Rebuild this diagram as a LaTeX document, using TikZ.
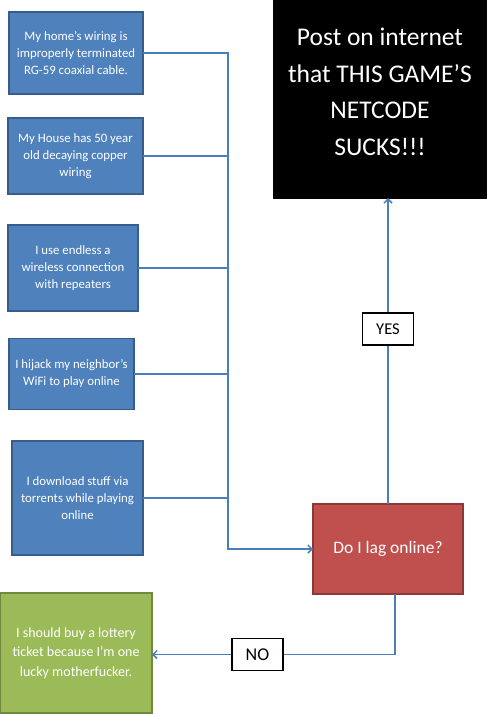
\documentclass[tikz,border=0pt]{standalone}
\usepackage{fontspec}
\setmainfont{Carlito}
\usetikzlibrary{arrows.meta}
\definecolor{cause}{HTML}{4F81BD}
\definecolor{causeline}{HTML}{385D8A}
\definecolor{ask}{HTML}{C0504D}
\definecolor{askline}{HTML}{8C3836}
\definecolor{luck}{HTML}{9BBB59}
\definecolor{luckline}{HTML}{71893F}
\definecolor{wire}{HTML}{4A7EBB}

\begin{document}
\begin{tikzpicture}[x=1pt, y=-1pt,
      box/.style={draw, line width=1.6pt, align=center, text=white, inner sep=0pt, outer sep=0pt},
      why/.style={box, draw=causeline, fill=cause, font=\fontsize{12.8}{17}\selectfont},
      answer/.style={draw, line width=1.2pt, fill=white, inner sep=0pt, minimum width=51pt, minimum height=32pt, font=\fontsize{16.5}{16.5}\selectfont},
      link/.style={wire, line width=1.5pt},
      arr/.style={link, -{Straight Barb[length=4pt,width=8pt]}}]
    \useasboundingbox (0,0) rectangle (487,714);
    \node[why, minimum width=134pt, minimum height=82pt] (coax) at (76,53) {My home’s wiring is\\improperly terminated\\RG-59 coaxial cable.};
    \node[why, minimum width=135pt, minimum height=76pt] (copper) at (75.5,156) {My House has 50 year\\old decaying copper\\wiring};
    \node[why, minimum width=130pt, minimum height=86pt] (repeat) at (73,268) {I use endless a\\wireless connection\\with repeaters};
    \node[why, minimum width=125pt, minimum height=71pt] (wifi) at (71.5,374) {I hijack my neighbor’s\\WiFi to play online};
    \node[why, minimum width=131pt, minimum height=114pt] (torrent) at (77.5,498) {I download stuff via\\torrents while playing\\online};
    \node[box, draw=askline, fill=ask, minimum width=150pt, minimum height=90pt, font=\fontsize{17.5}{17.5}\selectfont] (lag) at (388,549) {Do I lag online?};
    \node[box, draw=black, fill=black, minimum width=212pt, minimum height=198pt, font=\fontsize{25.5}{36.5}\selectfont] (post) at (380,99) {Post on internet\\that THIS GAME’S\\NETCODE\\SUCKS!!!\\[-22pt]};
    \node[box, draw=luckline, fill=luck, minimum width=152pt, minimum height=120pt, font=\fontsize{14}{19.5}\selectfont] (lotto) at (76,653) {I should buy a lottery\\ticket because I’m one\\lucky motherfucker.};
    \coordinate (bus) at (228,549);
    \draw[arr] (coax.east) -| (bus) -- (bus -| lag.west);
    \draw[link] (copper.east) -- (copper.east -| bus);  \draw[link] (repeat.east) -- (repeat.east -| bus);
    \draw[link] (wifi.east) -- (wifi.east -| bus);      \draw[link] (torrent.east) -- (torrent.east -| bus);
    \node[answer] (yes) at (388,329) {YES};
    \node[answer, font=\fontsize{18}{18}\selectfont] (no) at (257.5,654.5) {NO};
    \draw[link] (lag.north) -- (yes.south);
    \draw[arr] (yes.north) -- (yes.north |- post.south);
    \draw[link] ([xshift=7pt]lag.south) |- (no.east);
    \draw[arr] (no.west) -- (no.west -| lotto.east);
  \end{tikzpicture}
\end{document}
